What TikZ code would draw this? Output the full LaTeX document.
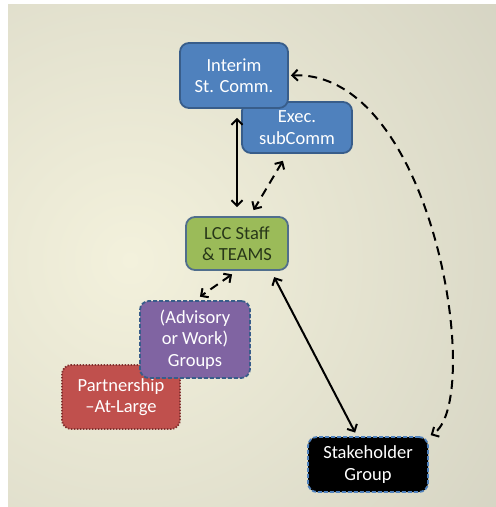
\documentclass[tikz,border=0pt]{standalone}
\usepackage{fontspec}
\setmainfont{Carlito}
\usetikzlibrary{arrows.meta, calc, positioning}
\definecolor{bgcream}{RGB}{243,241,220}
\definecolor{bggrey}{RGB}{192,191,177}
\definecolor{comm}{RGB}{79,129,189}
\definecolor{commline}{RGB}{56,93,138}
\definecolor{staff}{RGB}{155,187,89}
\definecolor{staffline}{RGB}{80,110,140}
\definecolor{stafftext}{RGB}{40,55,25}
\definecolor{groups}{RGB}{128,100,162}
\definecolor{partner}{RGB}{192,80,77}
\definecolor{partnerline}{RGB}{130,50,48}

\tikzset{
  box/.style={rounded corners=9pt, align=center, inner sep=2pt, line width=1.8pt,
    font=\fontsize{18.5}{21.5}\selectfont},
  commbox/.style={box, fill=comm, draw=commline, text=white},
  staffbox/.style={box, fill=staff, draw=staffline, text=stafftext},
  groupbox/.style={box, fill=groups, draw=commline, dash pattern=on 4pt off 2pt, text=white},
  partnerbox/.style={box, fill=partner, draw=partnerline, dash pattern=on 1.5pt off 1.5pt, text=white},
  stakebox/.style={box, fill=black, draw=comm, dash pattern=on 4pt off 2pt, text=white},
  link/.style={line width=2pt, {Straight Barb[length=5.5pt,width=11pt]}-{Straight Barb[length=5.5pt,width=11pt]}},
  dashlink/.style={link, dash pattern=on 9pt off 6pt}
}

\begin{document}
\begin{tikzpicture}[x=1pt, y=-1pt]

    \useasboundingbox (0,0) rectangle (496,507);

    % Background panel
    \begin{scope}
        \clip (8,4) rectangle (496,507);
        \shade[inner color=bgcream, outer color=bggrey] (130,260) circle[radius=800pt];
    \end{scope}

    % Committees
    \node[commbox, minimum width=110pt, minimum height=51pt] (exec) at (297,127.5) {Exec.\\subComm};
    \node[commbox, minimum width=108pt, minimum height=65pt] (isc) at (234,75.5) {Interim\\St. Comm.};

    % Staff
    \node[staffbox, minimum width=102pt, minimum height=53pt] (lcc) at (237,243.5) {LCC Staff\\\& TEAMS};

    % Groups
    \node[partnerbox, minimum width=118pt, minimum height=64pt] (part) at (121,397) {Partnership\\–At-Large};
    \node[groupbox, minimum width=110pt, minimum height=77pt] (adv) at (195,339.5) {(Advisory\\or Work)\\Groups};
    \node[stakebox, minimum width=120pt, minimum height=55pt] (stake) at (368,464.5) {Stakeholder\\Group};

    % Links
    \draw[link, shorten <=9pt, shorten >=9pt] (isc.south -| lcc.north) -- (lcc.north);
    \draw[dashlink, shorten <=8pt, shorten >=7pt] ([xshift=-10pt]exec.south) -- ([xshift=13pt]lcc.north);
    \draw[dashlink, shorten <=6pt, shorten >=6pt] (lcc.south) -- (adv.north);
    \draw[link, shorten <=7pt, shorten >=4pt] ([xshift=-18pt]lcc.south east) -- ([xshift=-11pt]stake.north);
    \draw[dashlink, shorten <=2pt, shorten >=2pt] (isc.east) .. controls (435,70) and (485,405) .. (stake.north east);

\end{tikzpicture}
\end{document}
